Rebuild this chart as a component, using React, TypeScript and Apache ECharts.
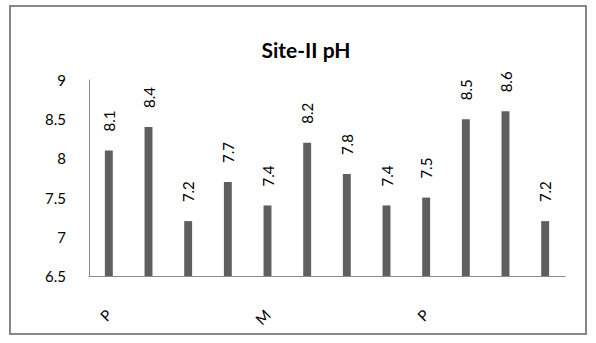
import React, { useEffect, useRef } from "react";
import * as echarts from "echarts";

const categories = ["P", "P", "P", "P", "M", "M", "M", "M", "P", "P", "P", "P"];
const phValues = [8.1, 8.4, 7.2, 7.7, 7.4, 8.2, 7.8, 7.4, 7.5, 8.5, 8.6, 7.2];
const yMin = 6.5;
const yMax = 9;
const yStep = 0.5;
const titleText = "Site-II pH";

export default function App() {
  const ref = useRef<HTMLDivElement>(null);
  useEffect(() => {
    if (!ref.current) return;
    const chart = echarts.init(ref.current, null, { renderer: "svg" });
    chart.setOption({
      animation: false,
      backgroundColor: "#ffffff",
      title: {
        text: titleText,
        left: 301,
        top: 34,
        textAlign: "center",
        textStyle: { fontFamily: "Lato", fontWeight: "bold", fontSize: 21, color: "#000" },
      },
      graphic: [
        {
          type: "rect",
          shape: { x: 10, y: 6, width: 576, height: 328 },
          style: { fill: "none", stroke: "#878787", lineWidth: 2 },
          silent: true,
        },
      ],
      grid: { left: 89, right: 31, top: 80, bottom: 67, containLabel: false },
      xAxis: {
        type: "category",
        data: categories,
        axisLine: { show: true, lineStyle: { color: "#8a8a8a", width: 1 } },
        axisTick: { show: false },
        axisLabel: {
          interval: 3,
          rotate: 45,
          margin: 36,
          fontFamily: "Lato",
          fontSize: 15,
          color: "#000",
        },
      },
      yAxis: {
        type: "value",
        min: yMin,
        max: yMax,
        interval: yStep,
        axisLine: { show: true, lineStyle: { color: "#8a8a8a", width: 1 } },
        axisTick: { show: false },
        splitLine: { show: false },
        axisLabel: {
          margin: 23,
          fontFamily: "Lato",
          fontSize: 15,
          color: "#000",
        },
      },
      series: [
        {
          type: "bar",
          data: phValues,
          barWidth: "20%",
          itemStyle: { color: "#5f5f5f" },
          label: {
            show: true,
            position: "top",
            rotate: 90,
            align: "left",
            verticalAlign: "middle",
            distance: 19,
            fontFamily: "Lato",
            fontSize: 15,
            color: "#000",
          },
        },
      ],
    });
    return () => chart.dispose();
  }, []);
  return (
    <div
      ref={ref}
      style={{ position: "fixed", left: 0, top: 0, width: 596, height: 343 }}
    />
  );
}
